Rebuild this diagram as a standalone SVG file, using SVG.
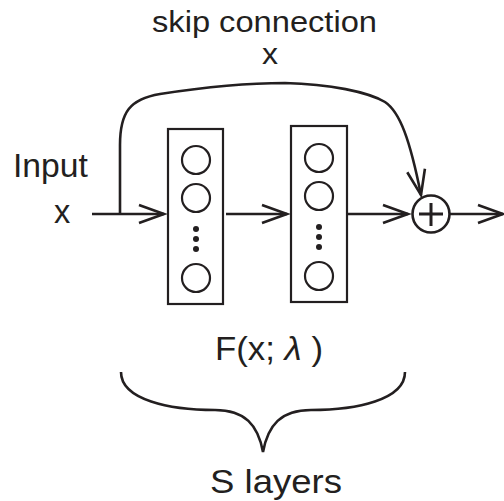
<svg xmlns="http://www.w3.org/2000/svg" width="504" height="501" viewBox="0 0 504 501">
<style>
.t{font-family:"Liberation Sans",Arial,sans-serif;font-size:32.5px;fill:#231f20}
.s{font-size:29px}
.ln{fill:none;stroke:#231f20;stroke-width:2.6}
.bx{fill:#fff;stroke:#231f20;stroke-width:2.2}
.nd{fill:none;stroke:#231f20;stroke-width:2.2}
.dot{fill:#231f20}
</style>
<defs>
<marker id="ah" markerUnits="userSpaceOnUse" markerWidth="40" markerHeight="30" viewBox="-30 -15 40 30" refX="0" refY="0" orient="auto">
<path d="M-25,-9 L0,0 L-25,9" fill="none" stroke="#231f20" stroke-width="2.6"/>
</marker>
</defs>
<rect width="504" height="501" fill="#fff"/>
<g id="connectors">
<path class="ln" d="M92,214 H164" marker-end="url(#ah)"/>
<path class="ln" d="M226,214 H287" marker-end="url(#ah)"/>
<path class="ln" d="M348,214 H408" marker-end="url(#ah)"/>
<path class="ln" d="M450,214 H503" marker-end="url(#ah)"/>
<path class="ln" d="M120,214 V145 C120,112 130,99 160,94 C205,87 250,83 285,83 C330,84 368,92 385,102 C400,112 410,140 421,195" marker-end="url(#ah)"/>
<path class="ln" d="M121,372 C121,400 170,410 215,410 C245,410 258,425 263,452 C268,425 281,410 311,410 C356,410 405,400 405,372"/>
</g>
<g id="layer1">
<rect class="bx" x="168" y="129" width="55" height="175"/>
<circle class="nd" cx="196" cy="160" r="14"/>
<circle class="nd" cx="196" cy="198" r="14"/>
<circle class="dot" cx="196" cy="229" r="3"/>
<circle class="dot" cx="196" cy="239" r="3"/>
<circle class="dot" cx="196" cy="249" r="3"/>
<circle class="nd" cx="196" cy="278" r="14"/>
</g>
<g id="layer2">
<rect class="bx" x="291" y="126" width="56" height="176"/>
<circle class="nd" cx="319" cy="158" r="14"/>
<circle class="nd" cx="319" cy="196" r="14"/>
<circle class="dot" cx="319" cy="227" r="3"/>
<circle class="dot" cx="319" cy="237" r="3"/>
<circle class="dot" cx="319" cy="247" r="3"/>
<circle class="nd" cx="319" cy="276" r="14"/>
</g>
<g id="sum">
<circle cx="431" cy="214" r="18.5" fill="#fff" stroke="#231f20" stroke-width="2.6"/>
<path d="M419,214 H443 M431,203 V226" stroke="#231f20" stroke-width="3" fill="none"/>
</g>
<g id="labels">
<text class="t s" x="152" y="32" textLength="225" lengthAdjust="spacingAndGlyphs">skip connection</text>
<text class="t s" x="270" y="64" text-anchor="middle" textLength="16" lengthAdjust="spacingAndGlyphs">x</text>
<text class="t" x="13" y="177" textLength="75" lengthAdjust="spacingAndGlyphs">Input</text>
<text class="t" x="62" y="223" text-anchor="middle">x</text>
<text class="t" x="215" y="360" textLength="108" lengthAdjust="spacingAndGlyphs">F(x; <tspan font-style="italic">λ</tspan> )</text>
<text class="t" x="210" y="493" textLength="132" lengthAdjust="spacingAndGlyphs">S layers</text>
</g>
</svg>
